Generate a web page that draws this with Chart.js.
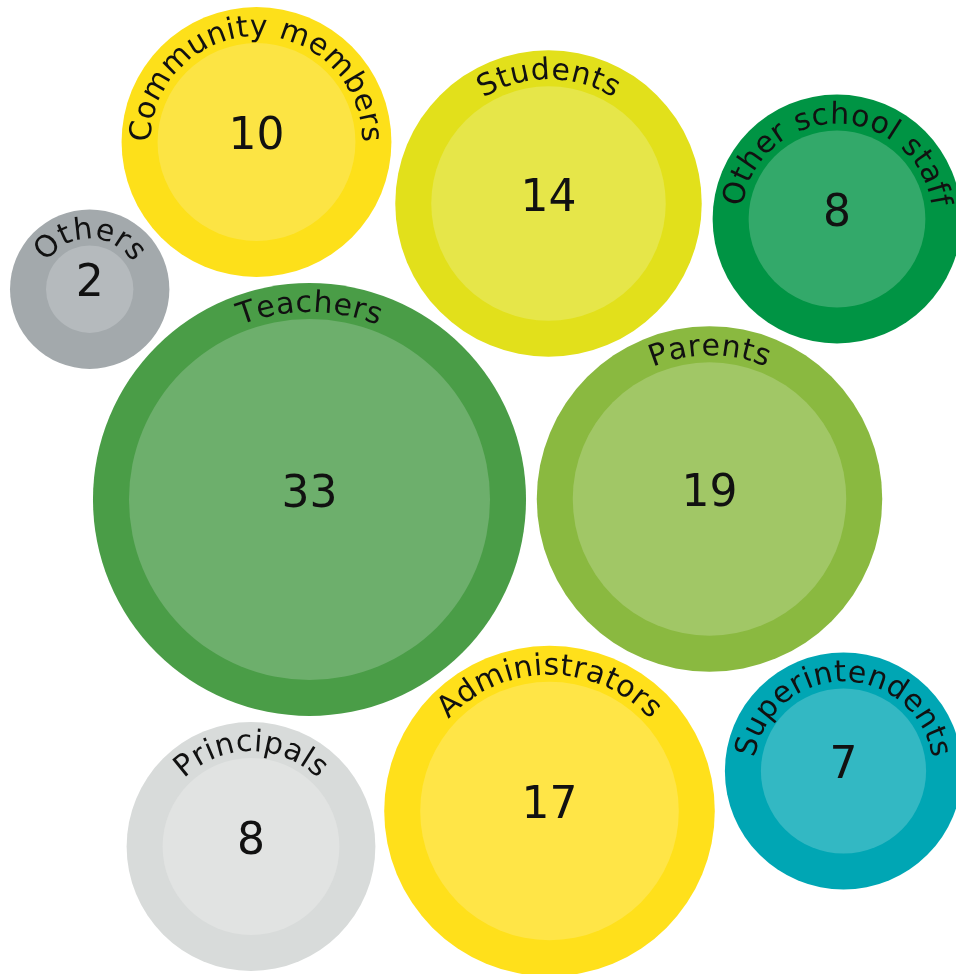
<!DOCTYPE html>
<html>
<head>
<meta charset="utf-8">
<script src="https://cdn.jsdelivr.net/npm/chart.js@4"></script>
<style>
  html, body { margin: 0; padding: 0; background: #fff; }
  #wrap { width: 956px; height: 974px; }
</style>
</head>
<body>
<div id="wrap"><canvas id="bubbles"></canvas></div>
<script>
// groups and how many of each
var groups = ['Community members', 'Students', 'Other school staff', 'Others', 'Teachers',
              'Parents', 'Administrators', 'Principals', 'Superintendents'];
var counts = [10, 14, 8, 2, 33, 19, 17, 8, 7];
// where each bubble sits (layout, in axis units)
var posX = [256.5, 548.5, 837, 89.7, 309.5, 709.5, 549.5, 251, 843.5];
var posY = [142, 203.5, 219, 289.2, 499.5, 499, 811, 846.5, 771];

var ringColors  = ['#FDE01A', '#E2E01B', '#009444', '#A3A9AC', '#4A9D47', '#8AB940', '#FFE01B', '#D8DBDA', '#00A6B4'];
var innerColors = ['#FCE444', '#E6E649', '#33A96A', '#B5BABD', '#6DAF6C', '#A1C766', '#FFE547', '#E1E3E2', '#33B8C3'];

var RING = 36;
function sizeFor(v) { return 35 + 31.6 * Math.sqrt(v); }

var outerData = counts.map(function (v, i) { return { x: posX[i], y: posY[i], r: sizeFor(v) }; });
var innerData = counts.map(function (v, i) { return { x: posX[i], y: posY[i], r: sizeFor(v) - RING }; });

// curved group name along the top of the ring + count in the middle
var bubbleLabels = {
  id: 'bubbleLabels',
  afterDatasetsDraw: function (chart) {
    var ctx = chart.ctx;
    var meta = chart.getDatasetMeta(1);
    meta.data.forEach(function (pt, i) {
      var cx = pt.x, cy = pt.y, R = pt.options.radius;
      ctx.save();
      ctx.fillStyle = '#111';
      // name
      ctx.font = '30px "DejaVu Sans"';
      ctx.textAlign = 'center';
      ctx.textBaseline = 'alphabetic';
      var text = groups[i], spacing = 0.5, rad = R - 29;
      var widths = [], total = 0;
      for (var c = 0; c < text.length; c++) {
        var w = ctx.measureText(text[c]).width + spacing;
        widths.push(w); total += w;
      }
      var a = -Math.PI / 2 - total / rad / 2;
      for (var c = 0; c < text.length; c++) {
        var mid = a + widths[c] / 2 / rad;
        ctx.save();
        ctx.translate(cx + rad * Math.cos(mid), cy + rad * Math.sin(mid));
        ctx.rotate(mid + Math.PI / 2);
        ctx.fillText(text[c], 0, 0);
        ctx.restore();
        a += widths[c] / rad;
      }
      // count
      ctx.font = '44px "DejaVu Sans"';
      ctx.fillText(String(counts[i]), cx, cy + 7);
      ctx.restore();
    });
  }
};

new Chart(document.getElementById('bubbles'), {
  type: 'bubble',
  data: {
    datasets: [
      { label: 'inner', data: innerData, backgroundColor: innerColors, borderWidth: 0 },
      { label: 'ring', data: outerData, backgroundColor: ringColors, borderWidth: 0 }
    ]
  },
  options: {
    responsive: true,
    maintainAspectRatio: false,
    animation: false,
    events: [],
    layout: { padding: 0, autoPadding: false },
    scales: {
      x: { type: 'linear', min: 0, max: 956, display: false },
      y: { type: 'linear', min: 0, max: 974, reverse: true, display: false }
    },
    plugins: {
      legend: { display: false },
      tooltip: { enabled: false }
    }
  },
  plugins: [bubbleLabels]
});
</script>
</body>
</html>
